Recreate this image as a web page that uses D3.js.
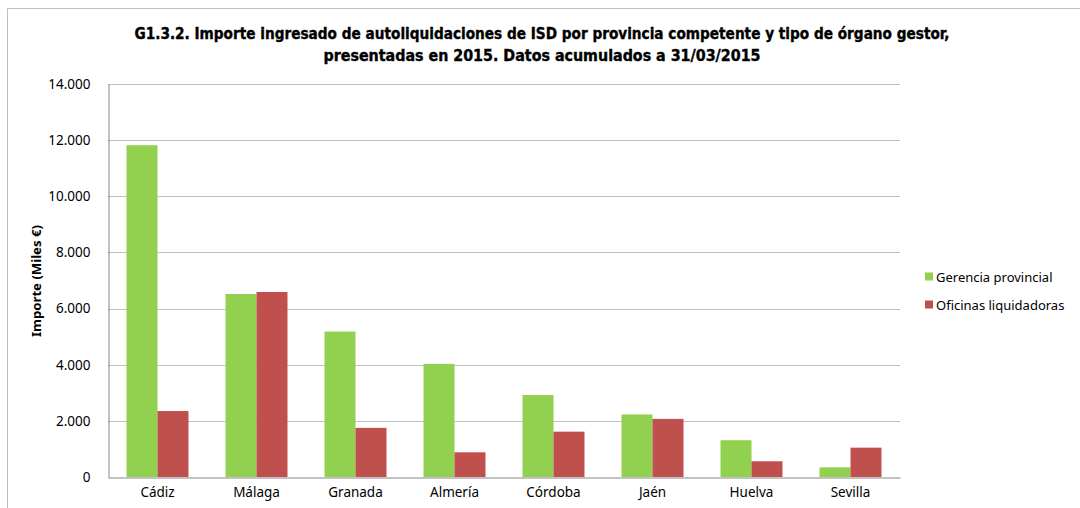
<!DOCTYPE html>
<html><head><meta charset="utf-8">
<script src="https://cdn.jsdelivr.net/npm/d3@7"></script>
<style>body{margin:0;background:#fff}svg{display:block}</style>
</head><body><svg id="c" width="1080" height="508"></svg>
<script>
const categories = ["Cádiz","Málaga","Granada","Almería","Córdoba","Jaén","Huelva","Sevilla"];
const gerencia = [11820, 6520, 5180, 4030, 2920, 2230, 1310, 345];
const oficinas = [2350, 6590, 1750, 880, 1615, 2070, 560, 1045];
const seriesNames = ["Gerencia provincial","Oficinas liquidadoras"];
const seriesColors = ["#92D050","#C0504D"];
const yTicks = [0,2000,4000,6000,8000,10000,12000,14000];
const titleLines = ["G1.3.2. Importe ingresado de autoliquidaciones de ISD por provincia competente y  tipo de órgano gestor,","presentadas en 2015. Datos acumulados a 31/03/2015"];
const yTitle = "Importe (Miles €)";

const svg = d3.select("#c");
const m = {l:108, r:900, t:84, b:477};
// outer frame
svg.append("path").attr("d","M7.5,520 V8.5 H1090").attr("fill","none").attr("stroke","#BDBDBD").attr("stroke-width",1);

const x = d3.scaleBand().domain(categories).range([m.l,m.r]).paddingInner(0.374).paddingOuter(0.187);
const x1 = d3.scaleBand().domain([0,1]).range([0,x.bandwidth()]);
const y = d3.scaleLinear().domain([0,14000]).range([m.b,m.t]);

const fmt = v => d3.format(",")(v).replace(/,/g,".");
// gridlines
svg.append("g").selectAll("line").data(yTicks.filter(d=>d>0)).join("line")
  .attr("x1",m.l).attr("x2",m.r).attr("y1",d=>Math.round(y(d))+0.5).attr("y2",d=>Math.round(y(d))+0.5)
  .attr("stroke","#BFBFBF").attr("stroke-width",1);

// bars
const data = categories.map((c,i)=>({c, v:[gerencia[i],oficinas[i]]}));
const g = svg.append("g");
data.forEach(d=>{
  d.v.forEach((v,k)=>{
    g.append("rect").attr("x",x(d.c)+x1(k)).attr("width",x1.bandwidth())
      .attr("y",y(v)).attr("height",m.b-y(v)).attr("fill",seriesColors[k]);
  });
});

// axes
const yAxis = svg.append("g").attr("transform",`translate(${m.l+0.5},0)`)
  .call(d3.axisLeft(y).tickValues(yTicks).tickFormat(fmt).tickSize(0).tickPadding(18));
yAxis.select(".domain").attr("stroke","#868686");
yAxis.selectAll("text").attr("font-family","Noto Sans, sans-serif").attr("font-size",13.5).attr("fill","#000");

const xAxis = svg.append("g").attr("transform",`translate(0,${m.b+0.5})`)
  .call(d3.axisBottom(x).tickSize(0).tickPadding(10));
xAxis.select(".domain").attr("stroke","#868686");
xAxis.selectAll("text").attr("font-family","Noto Sans, sans-serif").attr("font-size",13.5).attr("fill","#000");

// y title
svg.append("text").attr("transform","translate(41,281) rotate(-90)").attr("text-anchor","middle")
  .attr("font-family","Noto Sans, sans-serif").attr("font-weight","bold").attr("font-size",13)
  .attr("textLength",112).attr("lengthAdjust","spacingAndGlyphs").text(yTitle);

// title
const tw = [815, 437];
titleLines.forEach((t,i)=>{
  svg.append("text").attr("x",542).attr("y",39+i*22).attr("text-anchor","middle")
    .attr("font-family","DejaVu Sans Condensed, Liberation Sans Narrow, sans-serif").attr("font-weight","bold")
    .attr("font-size",15).attr("stroke","#000").attr("stroke-width",0.35)
    .attr("textLength",tw[i]).attr("lengthAdjust","spacingAndGlyphs").text(t);
});

// legend
const leg = svg.append("g");
seriesNames.forEach((s,i)=>{
  const yy = 277 + i*28;
  leg.append("rect").attr("x",925).attr("y",yy-4.5).attr("width",8).attr("height",8).attr("fill",seriesColors[i]);
  leg.append("text").attr("x",936).attr("y",yy+4.5).attr("font-family","Noto Sans, sans-serif").attr("font-size",13).text(s);
});
</script></body></html>
